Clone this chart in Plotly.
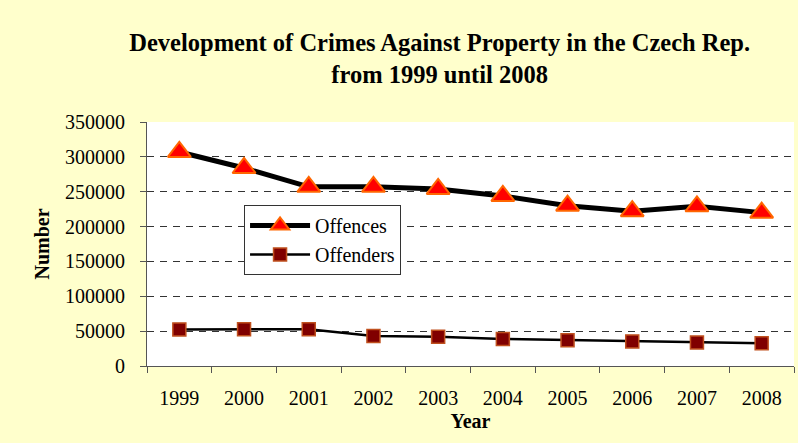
import plotly.graph_objects as go

years = ["1999", "2000", "2001", "2002", "2003", "2004", "2005", "2006", "2007", "2008"]
offences = [307000, 284000, 257000, 257000, 254000, 244000, 230000, 222000, 229000, 220000]
offenders = [52500, 52700, 52600, 43000, 42000, 38700, 37100, 35300, 33800, 32800]
y_ticks = [0, 50000, 100000, 150000, 200000, 250000, 300000, 350000]
grid_vals = [50000, 100000, 150000, 200000, 250000, 300000]

SERIF = "'Liberation Serif', 'Times New Roman', Times, 'DejaVu Serif', serif"

fig = go.Figure()
fig.add_trace(go.Scatter(
    x=years, y=offences, name="Offences", mode="lines+markers",
    line=dict(color="black", width=5),
    marker=dict(symbol="triangle-up", size=20, color="#FF0000",
                line=dict(color="#FF6600", width=2)),
))
fig.add_trace(go.Scatter(
    x=years, y=offenders, name="Offenders", mode="lines+markers",
    line=dict(color="black", width=2.5),
    marker=dict(symbol="square", size=13, color="#800000",
                line=dict(color="#C0501E", width=1.5)),
))

fig.update_layout(
    width=798, height=443,
    margin=dict(l=147, r=4, t=122, b=77, autoexpand=False),
    paper_bgcolor="#FFFFCC", plot_bgcolor="white",
    font=dict(family=SERIF, size=20, color="black"),
    title=dict(
        text="Development of Crimes Against Property in the Czech Rep.<br>from 1999 until 2008",
        font=dict(family=SERIF, size=24.5, color="black", weight="bold"),
        x=0.551, xanchor="center", xref="container",
        y=0.884, yanchor="top", yref="container",
    ),
    showlegend=True,
    legend=dict(
        x=0.15, y=0.66, xanchor="left", yanchor="top",
        bgcolor="white", bordercolor="#333333", borderwidth=1,
        font=dict(family=SERIF, size=20, color="black"),
        itemwidth=60,
    ),
    xaxis=dict(
        type="category", categoryorder="array", categoryarray=years,
        range=[-0.5, 9.5], tickson="boundaries",
        ticks="outside", ticklen=6, tickcolor="#555555", tickwidth=1,
        showline=True, linecolor="#555555", linewidth=1,
        showgrid=False, zeroline=False,
        tickfont=dict(family=SERIF, size=20, color="black"),
        ticklabelstandoff=14,
        title=dict(text="Year", font=dict(family=SERIF, size=20, color="black", weight="bold"),
                   standoff=5),
        automargin=False,
    ),
    yaxis=dict(
        range=[0, 350000], tickmode="array", tickvals=y_ticks,
        ticktext=[str(v) for v in y_ticks],
        ticks="outside", ticklen=6, tickcolor="#555555", tickwidth=1,
        showline=True, linecolor="#555555", linewidth=1,
        showgrid=False, zeroline=False,
        minor=dict(tickmode="array", tickvals=grid_vals, showgrid=True,
                   gridcolor="#333333", griddash="7px,6px", gridwidth=1, ticks=""),
        tickfont=dict(family=SERIF, size=20, color="black"),
        ticklabelstandoff=11,
        title=dict(text="Number", font=dict(family=SERIF, size=20, color="black", weight="bold"),
                   standoff=10),
        automargin=False,
    ),
)

fig.write_html(
    "out.html",
    config={"displayModeBar": False},
    post_script="document.body.style.margin='0';document.body.style.background='#FFFFCC';",
)
